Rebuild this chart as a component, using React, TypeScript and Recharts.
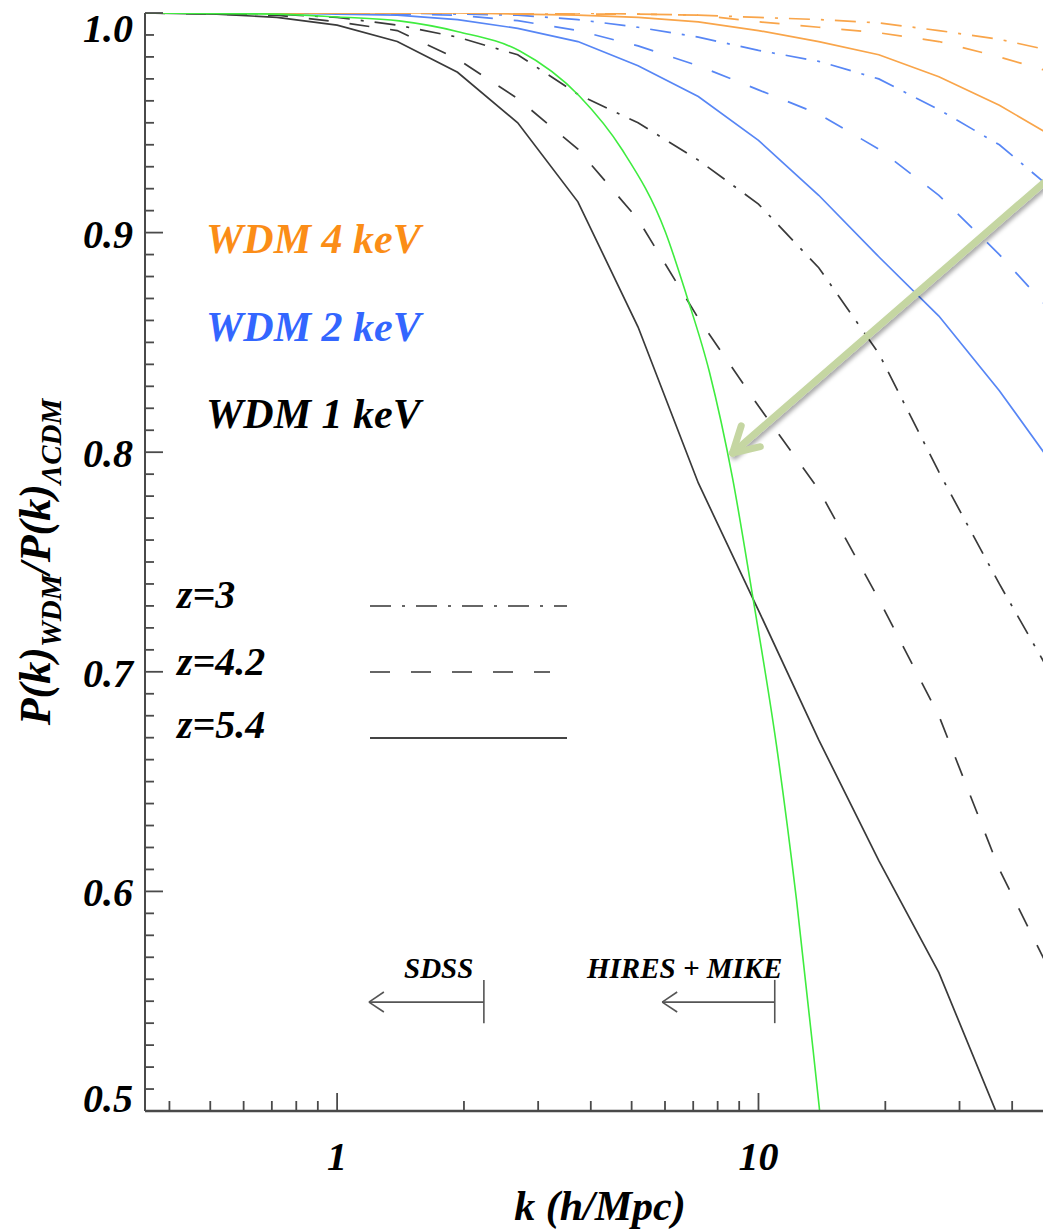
import React from 'react';
import { LineChart, Line, XAxis, YAxis, ReferenceLine } from 'recharts';

// k sampling of the simulation curves (h/Mpc)
const kGrid = [0.35, 0.518, 0.72, 1, 1.389, 1.931, 2.683, 3.728, 5.179, 7.197, 10, 13.9, 19.3, 26.8, 37.3, 51.8];

// P(k)_WDM / P(k)_LCDM
const wdm1z3 = [1.0, 1.0, 0.9995, 0.998, 0.9945, 0.989, 0.981, 0.963, 0.95, 0.933, 0.913, 0.884, 0.845, 0.791, 0.74, 0.692];
const wdm1z42 = [1.0, 0.9995, 0.999, 0.996, 0.992, 0.979, 0.961, 0.938, 0.906, 0.861, 0.821, 0.783, 0.733, 0.68, 0.61, 0.555];
const wdm1z54 = [1.0, 0.9995, 0.998, 0.9945, 0.987, 0.973, 0.95, 0.914, 0.857, 0.786, 0.728, 0.669, 0.614, 0.563, 0.496, 0.44];
const wdm2z3 = [1.0, 1.0, 1.0, 1.0, 1.0, 0.9995, 0.999, 0.997, 0.9935, 0.989, 0.983, 0.978, 0.97, 0.956, 0.94, 0.917];
const wdm2z42 = [1.0, 1.0, 1.0, 1.0, 0.9995, 0.999, 0.9965, 0.992, 0.985, 0.976, 0.965, 0.954, 0.938, 0.917, 0.89, 0.86];
const wdm2z54 = [1.0, 1.0, 1.0, 0.9995, 0.999, 0.997, 0.993, 0.987, 0.976, 0.962, 0.942, 0.917, 0.889, 0.862, 0.828, 0.79];
const wdm4z3 = [1.0, 1.0, 1.0, 1.0, 1.0, 1.0, 1.0, 1.0, 0.9995, 0.999, 0.998, 0.997, 0.9955, 0.992, 0.988, 0.982];
const wdm4z42 = [1.0, 1.0, 1.0, 1.0, 1.0, 1.0, 1.0, 0.9995, 0.9995, 0.999, 0.996, 0.9935, 0.991, 0.987, 0.98, 0.972];
const wdm4z54 = [1.0, 1.0, 1.0, 1.0, 1.0, 1.0, 0.9995, 0.999, 0.998, 0.996, 0.992, 0.987, 0.981, 0.971, 0.958, 0.942];

// green smooth curve
const greenK = [0.35, 0.72, 1, 1.404, 1.937, 2.714, 3.757, 4.753, 6.013, 6.745, 7.649, 8.677, 9.676, 11.03, 12.31, 13.96, 15.16];
const greenV = [1.0, 0.9995, 0.9982, 0.9964, 0.9915, 0.9827, 0.9622, 0.9376, 0.9003, 0.8716, 0.8365, 0.7883, 0.735, 0.6667, 0.5961, 0.5005, 0.4367];

// axis ticks
const kMajor = [1, 10];
const kMajorLabels = ['1', '10'];
const kMinor = [0.4, 0.5, 0.6, 0.7, 0.8, 0.9, 2, 3, 4, 5, 6, 7, 8, 9, 20, 30, 40];
const yMajor = [0.5, 0.6, 0.7, 0.8, 0.9, 1.0];
const yMajorLabels = ['0.5', '0.6', '0.7', '0.8', '0.9', '1.0'];
const yAllTicks = Array.from({ length: 51 }, (_, i) => Math.round((0.5 + i * 0.01) * 100) / 100);

// observational k limits
const limits = [
  { label: 'SDSS', kTip: 1.19, kEnd: 2.23 },
  { label: 'HIRES + MIKE', kTip: 5.91, kEnd: 10.93 },
];

const ORANGE = '#f9a54a';
const BLUE = '#5786f5';
const BLACK = '#3a3a3a';
const GREEN = '#3fec3f';
const AXIS = '#4a4a4a';
const DASH = '20 21';
const DASHDOT = '21 11 3 11';
const FONT = '"Liberation Serif", "Times New Roman", serif';

const series = [
  { name: 'wdm1z3', values: wdm1z3, color: BLACK, dash: DASHDOT },
  { name: 'wdm1z42', values: wdm1z42, color: BLACK, dash: DASH },
  { name: 'wdm1z54', values: wdm1z54, color: BLACK, dash: undefined },
  { name: 'wdm2z3', values: wdm2z3, color: BLUE, dash: DASHDOT },
  { name: 'wdm2z42', values: wdm2z42, color: BLUE, dash: DASH },
  { name: 'wdm2z54', values: wdm2z54, color: BLUE, dash: undefined },
  { name: 'wdm4z3', values: wdm4z3, color: ORANGE, dash: DASHDOT },
  { name: 'wdm4z42', values: wdm4z42, color: ORANGE, dash: DASH },
  { name: 'wdm4z54', values: wdm4z54, color: ORANGE, dash: undefined },
];

const greenData = greenK.map((k, i) => ({ k, v: greenV[i] }));

const labelStyle: React.CSSProperties = {
  fontFamily: FONT,
  fontWeight: 'bold',
  fontStyle: 'italic',
  fontSize: 40,
  fill: '#000',
};

const near = (a: number, b: number) => Math.abs(a - b) < 1e-6;

function BottomTick(props: any) {
  const { x, y, payload } = props;
  const idx = kMajor.findIndex(m => near(m, payload.value));
  const len = idx >= 0 ? 18 : 10;
  return (
    <g>
      <line x1={x} y1={y} x2={x} y2={y - len} stroke={AXIS} strokeWidth={1.8} />
      {idx >= 0 && (
        <text x={x} y={y + 59} textAnchor="middle" style={labelStyle}>
          {kMajorLabels[idx]}
        </text>
      )}
    </g>
  );
}

function TopTick(props: any) {
  const { x, y, payload } = props;
  const len = kMajor.some(m => near(m, payload.value)) ? 18 : 10;
  return <line x1={x} y1={y} x2={x} y2={y + len} stroke={AXIS} strokeWidth={1.8} />;
}

function LeftTick(props: any) {
  const { x, y, payload } = props;
  const idx = yMajor.findIndex(m => near(m, payload.value));
  const len = idx >= 0 ? 18 : 9;
  // end labels are pushed inside the frame
  const nudge = near(payload.value, 1) ? 14 : near(payload.value, 0.5) ? -14 : 0;
  return (
    <g>
      <line x1={x} y1={y} x2={x + len} y2={y} stroke={AXIS} strokeWidth={1.8} />
      {idx >= 0 && (
        <text x={x - 12} y={y + 15 + nudge} textAnchor="end" style={labelStyle}>
          {yMajorLabels[idx]}
        </text>
      )}
    </g>
  );
}

function RightTick(props: any) {
  const { x, y, payload } = props;
  const len = yMajor.some(m => near(m, payload.value)) ? 18 : 9;
  return <line x1={x - len} y1={y} x2={x} y2={y} stroke={AXIS} strokeWidth={1.8} />;
}

function Overlay() {
  const t = { fontFamily: FONT, fontWeight: 'bold' as const, fontStyle: 'italic' as const };
  return (
    <svg
      width={1043}
      height={1230}
      style={{ position: 'absolute', left: 0, top: 0, pointerEvents: 'none' }}
    >
      {/* legend */}
      <text x={206} y={253} fontSize={42} fill="#fb8d17" {...t}>WDM 4 keV</text>
      <text x={206} y={341} fontSize={42} fill="#3366ff" {...t}>WDM 2 keV</text>
      <text x={206} y={428} fontSize={42} fill="#000" {...t}>WDM 1 keV</text>

      <text x={177} y={608} fontSize={40} fill="#000" {...t}>z=3</text>
      <text x={177} y={675} fontSize={40} fill="#000" {...t}>z=4.2</text>
      <text x={177} y={738} fontSize={40} fill="#000" {...t}>z=5.4</text>
      <line x1={370} y1={606} x2={567} y2={606} stroke="#666" strokeWidth={2} strokeDasharray={DASHDOT} />
      <line x1={370} y1={672} x2={550} y2={672} stroke="#666" strokeWidth={2} strokeDasharray={DASH} />
      <line x1={370} y1={738} x2={567} y2={738} stroke="#444" strokeWidth={2} />

      {/* survey labels */}
      <text x={404} y={978} fontSize={29} fill="#000" {...t}>{limits[0].label}</text>
      <text x={587} y={978} fontSize={29} fill="#000" {...t}>{limits[1].label}</text>

      {/* axis titles */}
      <text x={600} y={1220} fontSize={42} textAnchor="middle" fill="#000" {...t}>k (h/Mpc)</text>
      <text transform="translate(50,562) rotate(-90)" textAnchor="middle" fontSize={44} fill="#000" {...t}>
        <tspan>P(k)</tspan>
        <tspan dy={11} fontSize={29}>WDM</tspan>
        <tspan dy={-11}>/P(k)</tspan>
        <tspan dy={11} fontSize={29}>ΛCDM</tspan>
      </text>
    </svg>
  );
}

export default function App() {
  return (
    <div
      style={{
        position: 'absolute',
        left: 0,
        top: 0,
        width: 1043,
        height: 1230,
        overflow: 'hidden',
        background: '#fff',
      }}
    >
      <LineChart width={1080} height={1230} margin={{ top: 13, right: 27, bottom: 0, left: 0 }}>
        <defs>
          <filter id="arrowShadow" x="-20%" y="-20%" width="140%" height="140%">
            <feDropShadow dx="2" dy="3" stdDeviation="2" floodColor="#000" floodOpacity="0.35" />
          </filter>
        </defs>
        <XAxis
          xAxisId={0}
          type="number"
          dataKey="k"
          scale="log"
          domain={[0.35, 50]}
          allowDataOverflow
          ticks={[...kMinor, ...kMajor]}
          interval={0}
          height={119}
          tickSize={0}
          tickMargin={0}
          tick={BottomTick}
          axisLine={{ stroke: AXIS, strokeWidth: 2.5 }}
        />
        <XAxis
          xAxisId="top"
          orientation="top"
          type="number"
          scale="log"
          domain={[0.35, 50]}
          allowDataOverflow
          ticks={[...kMinor, ...kMajor]}
          interval={0}
          height={0}
          tickSize={0}
          tickMargin={0}
          tick={TopTick}
          axisLine={{ stroke: AXIS, strokeWidth: 2 }}
        />
        <YAxis
          yAxisId={0}
          type="number"
          domain={[0.5, 1]}
          allowDataOverflow
          ticks={yAllTicks}
          interval={0}
          width={145}
          tickSize={0}
          tickMargin={0}
          tick={LeftTick}
          axisLine={{ stroke: AXIS, strokeWidth: 2 }}
        />
        <YAxis
          yAxisId="right"
          orientation="right"
          type="number"
          domain={[0.5, 1]}
          allowDataOverflow
          ticks={yAllTicks}
          interval={0}
          width={0}
          tickSize={0}
          tickMargin={0}
          tick={RightTick}
          axisLine={{ stroke: AXIS, strokeWidth: 2 }}
        />

        {series.map(s => (
          <Line
            key={s.name}
            data={kGrid.map((k, i) => ({ k, v: s.values[i] }))}
            dataKey="v"
            type="linear"
            stroke={s.color}
            strokeWidth={1.7}
            strokeDasharray={s.dash}
            dot={false}
            activeDot={false}
            isAnimationActive={false}
          />
        ))}
        <Line
          data={greenData}
          dataKey="v"
          type="monotone"
          stroke={GREEN}
          strokeWidth={1.6}
          dot={false}
          activeDot={false}
          isAnimationActive={false}
        />

        {limits.map(l => (
          <React.Fragment key={l.label}>
            <ReferenceLine segment={[{ x: l.kTip, y: 0.5496 }, { x: l.kEnd, y: 0.5496 }]} stroke="#555" strokeWidth={1.6} />
            <ReferenceLine segment={[{ x: l.kEnd, y: 0.5597 }, { x: l.kEnd, y: 0.54 }]} stroke="#555" strokeWidth={1.6} />
            <ReferenceLine segment={[{ x: l.kTip, y: 0.5496 }, { x: l.kTip * 1.085, y: 0.5542 }]} stroke="#555" strokeWidth={1.6} />
            <ReferenceLine segment={[{ x: l.kTip, y: 0.5496 }, { x: l.kTip * 1.085, y: 0.5451 }]} stroke="#555" strokeWidth={1.6} />
          </React.Fragment>
        ))}

        {/* highlighting arrow */}
        <ReferenceLine
          segment={[{ x: 57.9, y: 0.937 }, { x: 8.68, y: 0.7996 }]}
          ifOverflow="visible"
          stroke="#c5d6a2"
          strokeWidth={7}
          strokeLinecap="round"
          filter="url(#arrowShadow)"
        />
        <ReferenceLine
          segment={[{ x: 8.68, y: 0.7996 }, { x: 9.1, y: 0.812 }]}
          ifOverflow="visible"
          stroke="#c5d6a2"
          strokeWidth={7}
          strokeLinecap="round"
        />
        <ReferenceLine
          segment={[{ x: 8.68, y: 0.7996 }, { x: 10.1, y: 0.8025 }]}
          ifOverflow="visible"
          stroke="#c5d6a2"
          strokeWidth={7}
          strokeLinecap="round"
        />
      </LineChart>
      <Overlay />
    </div>
  );
}
